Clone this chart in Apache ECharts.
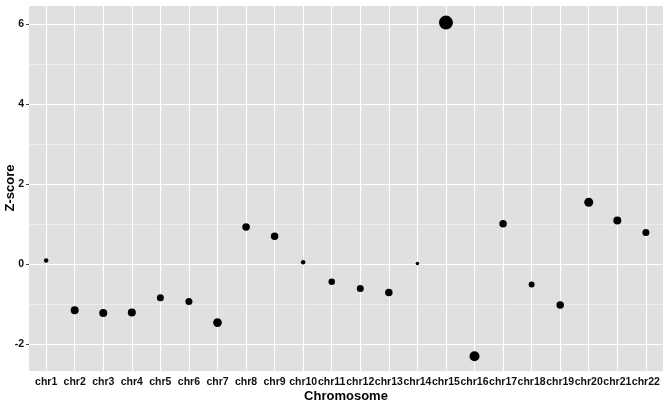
<!DOCTYPE html>
<html>
<head>
<meta charset="utf-8">
<script src="https://cdn.jsdelivr.net/npm/echarts@6/dist/echarts.min.js"></script>
<style>
  html, body { margin: 0; padding: 0; background: #fff; }
  #chart { width: 669px; height: 403px; }
</style>
</head>
<body>
<div id="chart"></div>
<script>
  // chromosome names on the x axis
  var chromosomes = ['chr1', 'chr2', 'chr3', 'chr4', 'chr5', 'chr6', 'chr7', 'chr8', 'chr9', 'chr10', 'chr11',
    'chr12', 'chr13', 'chr14', 'chr15', 'chr16', 'chr17', 'chr18', 'chr19', 'chr20', 'chr21', 'chr22'];
  // z-score per chromosome
  var zscores = [0.1, -1.14, -1.21, -1.2, -0.83, -0.92, -1.45, 0.94, 0.71, 0.06, -0.43,
    -0.6, -0.7, 0.03, 6.05, -2.29, 1.02, -0.5, -1.01, 1.56, 1.1, 0.8];
  // point size aesthetic
  var weight = [4.5, 8, 8, 8, 7, 7, 8.7, 7.5, 7.5, 4.5, 6.5,
    7, 7.5, 3.5, 14, 10, 7.5, 6, 7.5, 9, 8, 7];

  var chart = echarts.init(document.getElementById('chart'));
  var fontFamily = '"Liberation Sans", Arial, sans-serif';

  var points = zscores.map(function (z, i) {
    return [i + 1, z, weight[i]];
  });
  var xTicks = chromosomes.map(function (c, i) { return i + 1; });

  var option = {
    animation: false,
    grid: {
      left: 29, right: 6, top: 5, bottom: 32,
      containLabel: false,
      outerBoundsMode: 'none',
      show: true, backgroundColor: '#e0e0e0', borderWidth: 0
    },
    xAxis: {
      type: 'value',
      min: 0.4,
      max: 22.6,
      name: 'Chromosome',
      nameLocation: 'middle',
      nameGap: 19,
      nameMoveOverlap: false,
      nameTextStyle: { fontFamily: fontFamily, fontWeight: 'bold', fontSize: 13, color: '#000' },
      axisLine: { show: false },
      axisTick: { show: true, length: 3, customValues: xTicks, lineStyle: { color: '#444' } },
      axisLabel: {
        customValues: xTicks,
        margin: 6,
        fontFamily: fontFamily, fontWeight: 'bold', fontSize: 10.5, color: '#111',
        formatter: function (v) { return chromosomes[Math.round(v) - 1]; }
      },
      splitLine: { show: false }
    },
    yAxis: {
      type: 'value',
      min: -2.66,
      max: 6.49,
      name: 'Z-score',
      nameLocation: 'middle',
      nameRotate: 90,
      nameGap: 12,
      nameMoveOverlap: false,
      nameTextStyle: { fontFamily: fontFamily, fontWeight: 'bold', fontSize: 13, color: '#000' },
      axisLine: { show: false },
      axisTick: { show: true, length: 3, lineStyle: { color: '#444' } },
      axisLabel: {
        margin: 5,
        fontFamily: fontFamily, fontWeight: 'bold', fontSize: 10.5, color: '#111',
        showMinLabel: false, showMaxLabel: false
      },
      splitLine: { show: true, lineStyle: { color: '#fff', width: 1.1 } },
      minorTick: { show: false, splitNumber: 2 },
      minorSplitLine: { show: true, lineStyle: { color: '#f2f2f2', width: 0.7 } }
    },
    series: [{
      // vertical major grid lines at each chromosome
      type: 'scatter',
      data: [],
      silent: true,
      z: 1,
      markLine: {
        silent: true,
        z: 1,
        symbol: ['none', 'none'],
        label: { show: false },
        lineStyle: { type: 'solid', color: '#fff', width: 1.1 },
        data: xTicks.map(function (x) { return { xAxis: x }; })
      }
    }, {
      type: 'scatter',
      data: points,
      z: 5,
      symbolSize: function (d) { return d[2]; },
      itemStyle: { color: '#000', opacity: 1 },
      silent: true
    }]
  };
  chart.setOption(option);
</script>
</body>
</html>
